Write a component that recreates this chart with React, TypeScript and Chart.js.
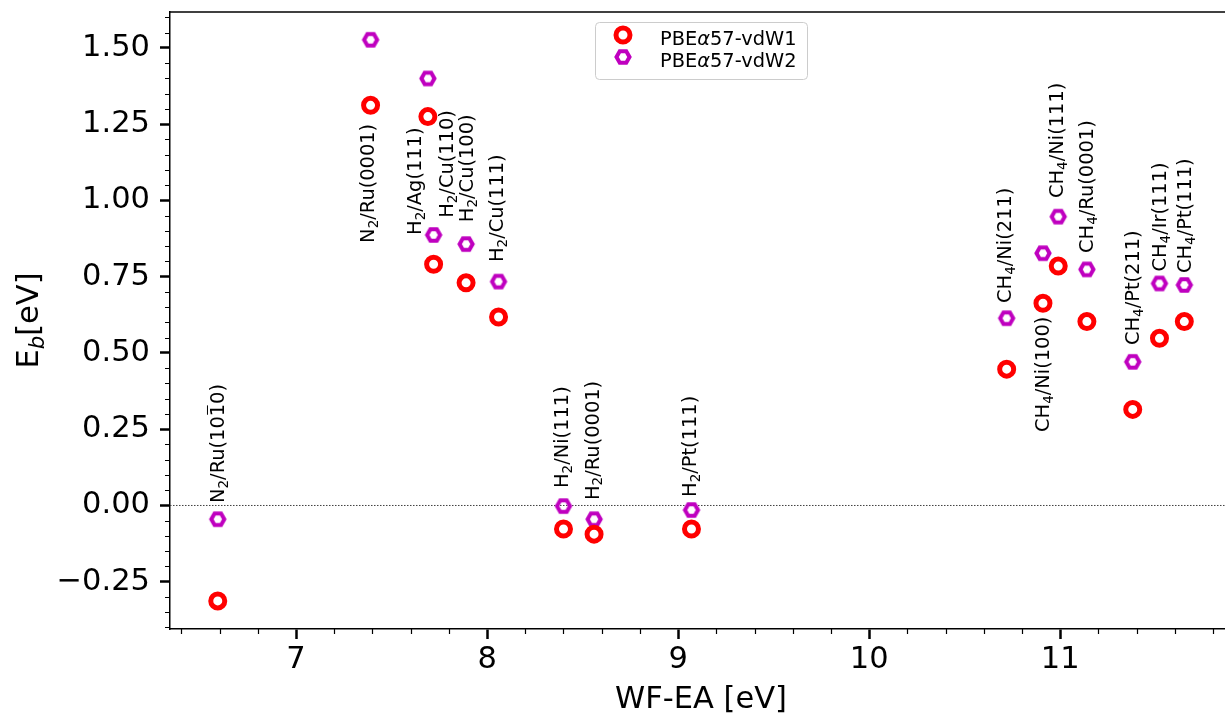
import React, { useEffect, useRef } from "react";
import { Chart, registerables } from "chart.js";

Chart.register(...registerables);

const FONT = "'DejaVu Sans', 'Liberation Sans', sans-serif";

// ---- data ----
// "_" marks a subscript character, "!" marks a character with an overbar
const systems = [
  "N_2/Ru(10!10)",
  "N_2/Ru(0001)",
  "H_2/Ag(111)",
  "H_2/Cu(110)",
  "H_2/Cu(100)",
  "H_2/Cu(111)",
  "H_2/Ni(111)",
  "H_2/Ru(0001)",
  "H_2/Pt(111)",
  "CH_4/Ni(211)",
  "CH_4/Ni(100)",
  "CH_4/Ni(111)",
  "CH_4/Ru(0001)",
  "CH_4/Pt(211)",
  "CH_4/Ir(111)",
  "CH_4/Pt(111)",
];
const wfEa = [6.59, 7.39, 7.69, 7.72, 7.89, 8.06, 8.4, 8.56, 9.07, 10.72, 10.91, 10.99, 11.14, 11.38, 11.52, 11.65];
const ebVdW1 = [-0.313, 1.312, 1.275, 0.791, 0.73, 0.618, -0.077, -0.094, -0.077, 0.447, 0.663, 0.785, 0.603, 0.315, 0.548, 0.603];
const ebVdW2 = [-0.045, 1.527, 1.4, 0.887, 0.857, 0.734, -0.002, -0.045, -0.015, 0.614, 0.827, 0.947, 0.774, 0.471, 0.728, 0.723];
// annotation anchors (data coordinates: x centre, y where the rotated text starts)
const labelX = [6.59, 7.377, 7.62, 7.79, 7.895, 8.05, 8.39, 8.55, 9.06, 10.71, 10.91, 10.98, 11.14, 11.38, 11.52, 11.65];
const labelY = [0.008, 0.861, 0.887, 0.943, 0.929, 0.798, 0.057, 0.018, 0.028, 0.664, 0.241, 1.008, 0.828, 0.526, 0.767, 0.762];
const seriesNames = ["PBEα57-vdW1", "PBEα57-vdW2"];
const xTickValues = [7, 8, 9, 10, 11];
const yTickValues = [-0.25, 0, 0.25, 0.5, 0.75, 1.0, 1.25, 1.5];
const xRange = [6.34, 11.863];
const yRange = [-0.405, 1.618];
const xMinorStep = 0.2;
const yMinorStep = 0.05;
const xTitle = "WF-EA [eV]";

const RED = "#ff0000";
const MAG = "#bf00bf";

function makeHex(): HTMLCanvasElement {
  const c = document.createElement("canvas");
  c.width = 24;
  c.height = 24;
  const g = c.getContext("2d")!;
  const R = 6.5;
  g.beginPath();
  for (let k = 0; k < 6; k++) {
    const a = (k * Math.PI) / 3;
    const px = 12 + R * Math.cos(a);
    const py = 12 + R * Math.sin(a);
    if (k === 0) g.moveTo(px, py);
    else g.lineTo(px, py);
  }
  g.closePath();
  g.lineWidth = 4;
  g.lineJoin = "miter";
  g.strokeStyle = MAG;
  g.stroke();
  return c;
}

type Seg = { t: string; sub?: boolean; bar?: boolean; italic?: boolean };

function parse(label: string): Seg[] {
  const out: Seg[] = [];
  for (let i = 0; i < label.length; i++) {
    const c = label[i];
    if (c === "_") out.push({ t: label[++i], sub: true });
    else if (c === "!") out.push({ t: label[++i], bar: true });
    else {
      const last = out[out.length - 1];
      if (last && !last.sub && !last.bar && !last.italic) last.t += c;
      else out.push({ t: c });
    }
  }
  return out;
}

function segFont(s: Seg, size: number) {
  const sz = s.sub ? size * 0.7 : size;
  return `${s.italic ? "italic " : ""}${sz}px ${FONT}`;
}

function measureRich(ctx: CanvasRenderingContext2D, segs: Seg[], size: number) {
  let w = 0;
  for (const s of segs) {
    ctx.font = segFont(s, size);
    w += ctx.measureText(s.t).width;
  }
  return w;
}

function drawRich(ctx: CanvasRenderingContext2D, segs: Seg[], x: number, y: number, size: number) {
  let cx = x;
  ctx.textAlign = "left";
  ctx.textBaseline = "alphabetic";
  for (const s of segs) {
    ctx.font = segFont(s, size);
    const w = ctx.measureText(s.t).width;
    const dy = s.sub ? size * 0.2 : 0;
    ctx.fillText(s.t, cx, y + dy);
    if (s.bar) {
      ctx.save();
      ctx.lineWidth = 1;
      ctx.strokeStyle = ctx.fillStyle as string;
      ctx.beginPath();
      ctx.moveTo(cx + w * 0.12, y - size * 0.86);
      ctx.lineTo(cx + w * 0.88, y - size * 0.86);
      ctx.stroke();
      ctx.restore();
    }
    cx += w;
  }
  return cx - x;
}

export default function App() {
  const ref = useRef<HTMLCanvasElement | null>(null);

  useEffect(() => {
    const canvas = ref.current;
    if (!canvas) return;
    const hex = makeHex();

    const decor = {
      id: "decor",
      beforeDatasetsDraw(chart: any) {
        const { ctx, chartArea } = chart;
        const y0 = chart.scales.y.getPixelForValue(0);
        ctx.save();
        ctx.strokeStyle = "#404040";
        ctx.lineWidth = 1;
        ctx.setLineDash([1.5, 1.5]);
        ctx.beginPath();
        ctx.moveTo(chartArea.left, y0);
        ctx.lineTo(chartArea.right, y0);
        ctx.stroke();
        ctx.restore();
      },
      afterDraw(chart: any) {
        const { ctx, chartArea } = chart;
        const xs = chart.scales.x;
        const ys = chart.scales.y;
        ctx.save();
        // top spine
        ctx.strokeStyle = "#000";
        ctx.lineWidth = 1.5;
        ctx.beginPath();
        ctx.moveTo(chartArea.left, chartArea.top);
        ctx.lineTo(chartArea.right, chartArea.top);
        ctx.stroke();
        // minor ticks
        ctx.lineWidth = 1.2;
        ctx.beginPath();
        for (let v = Math.ceil(xRange[0] / xMinorStep); v * xMinorStep <= xRange[1]; v++) {
          const val = v * xMinorStep;
          if (Math.abs(val - Math.round(val)) < 1e-6) continue;
          const px = Math.round(xs.getPixelForValue(val)) + 0.5;
          ctx.moveTo(px, chartArea.bottom);
          ctx.lineTo(px, chartArea.bottom + 5);
        }
        for (let v = Math.ceil(yRange[0] / yMinorStep); v * yMinorStep <= yRange[1]; v++) {
          const val = v * yMinorStep;
          if (Math.abs(val / 0.25 - Math.round(val / 0.25)) < 1e-6) continue;
          const py = Math.round(ys.getPixelForValue(val)) + 0.5;
          ctx.moveTo(chartArea.left, py);
          ctx.lineTo(chartArea.left - 5, py);
        }
        ctx.stroke();

        // annotations
        ctx.fillStyle = "#000";
        const ls = 19.4;
        systems.forEach((lab, i) => {
          const px = xs.getPixelForValue(labelX[i]);
          const py = ys.getPixelForValue(labelY[i]);
          ctx.save();
          ctx.translate(px, py);
          ctx.rotate(-Math.PI / 2);
          drawRich(ctx, parse(lab), 0, ls * 0.33, ls);
          ctx.restore();
        });

        // axis titles
        const ts = 30.5;
        const xt = parse(xTitle);
        const xw = measureRich(ctx, xt, ts);
        drawRich(ctx, xt, 701 - xw / 2, 708, ts);

        const yt: Seg[] = [{ t: "E" }, { t: "b", sub: true, italic: true }, { t: "[eV]" }];
        const yw = measureRich(ctx, yt, ts);
        ctx.save();
        ctx.translate(38, (chartArea.top + chartArea.bottom) / 2);
        ctx.rotate(-Math.PI / 2);
        drawRich(ctx, yt, -yw / 2, 0, ts);
        ctx.restore();

        // legend
        const bx = 595.5, by = 22.5, bw = 212, bh = 57;
        ctx.beginPath();
        ctx.roundRect(bx, by, bw, bh, 4);
        ctx.fillStyle = "rgba(255,255,255,0.8)";
        ctx.fill();
        ctx.strokeStyle = "#cccccc";
        ctx.lineWidth = 1;
        ctx.stroke();

        ctx.beginPath();
        ctx.arc(623, 35, 7, 0, Math.PI * 2);
        ctx.strokeStyle = RED;
        ctx.lineWidth = 5;
        ctx.stroke();
        ctx.drawImage(hex, 623 - 12, 57 - 12);

        ctx.fillStyle = "#000";
        const legSize = 19.4;
        seriesNames.forEach((name, i) => {
          const parts = name.split("α");
          const segs: Seg[] = [{ t: parts[0] }, { t: "α", italic: true }, { t: parts[1] }];
          drawRich(ctx, segs, 660, 45 + i * 22, legSize);
        });
        ctx.restore();
      },
    };

    const chart = new Chart(canvas, {
      type: "scatter",
      data: {
        datasets: [
          {
            label: seriesNames[0],
            data: wfEa.map((x, i) => ({ x, y: ebVdW1[i] })),
            pointStyle: "circle",
            pointRadius: 7,
            pointHoverRadius: 7,
            borderWidth: 5,
            pointBorderWidth: 5,
            borderColor: RED,
            backgroundColor: "rgba(0,0,0,0)",
          },
          {
            label: seriesNames[1],
            data: wfEa.map((x, i) => ({ x, y: ebVdW2[i] })),
            pointStyle: hex,
            pointRadius: 7,
            pointHoverRadius: 7,
            borderColor: MAG,
            backgroundColor: "rgba(0,0,0,0)",
          },
        ],
      },
      options: {
        animation: false,
        responsive: false,
        devicePixelRatio: 1,
        events: [],
        layout: { autoPadding: false, padding: { top: 12, left: 0, right: 0, bottom: 0 } },
        plugins: {
          legend: { display: false },
          tooltip: { enabled: false },
          title: { display: false },
        },
        scales: {
          x: {
            type: "linear",
            min: xRange[0],
            max: xRange[1],
            afterBuildTicks: (s: any) => {
              s.ticks = xTickValues.map((v) => ({ value: v }));
            },
            afterFit: (s: any) => {
              s.height = 88;
              s.paddingLeft = 0;
              s.paddingRight = 0;
            },
            ticks: {
              autoSkip: false,
              maxRotation: 0,
              padding: 3,
              color: "#000",
              font: { family: FONT, size: 30.5 },
              callback: (v: any) => String(v),
            },
            grid: {
              display: true,
              drawOnChartArea: false,
              drawTicks: true,
              tickLength: 10,
              tickWidth: 2.5,
              tickColor: "#000",
              color: "#000",
            },
            border: { display: true, color: "#000", width: 1.5 },
          },
          y: {
            type: "linear",
            min: yRange[0],
            max: yRange[1],
            afterBuildTicks: (s: any) => {
              s.ticks = yTickValues.map((v) => ({ value: v }));
            },
            afterFit: (s: any) => {
              s.width = 170;
              s.paddingTop = 0;
              s.paddingBottom = 0;
            },
            ticks: {
              autoSkip: false,
              padding: 10,
              color: "#000",
              font: { family: FONT, size: 30.5 },
              callback: (v: any) => Number(v).toFixed(2).replace("-", "\u2212"),
            },
            grid: {
              display: true,
              drawOnChartArea: false,
              drawTicks: true,
              tickLength: 10,
              tickWidth: 2.5,
              tickColor: "#000",
              color: "#000",
            },
            border: { display: true, color: "#000", width: 1.5 },
          },
        },
      },
      plugins: [decor],
    } as any);

    return () => chart.destroy();
  }, []);

  return (
    <div style={{ position: "absolute", left: 0, top: 0, width: 1225, height: 717, background: "#fff" }}>
      <canvas ref={ref} width={1225} height={717} style={{ display: "block", width: 1225, height: 717 }} />
    </div>
  );
}
